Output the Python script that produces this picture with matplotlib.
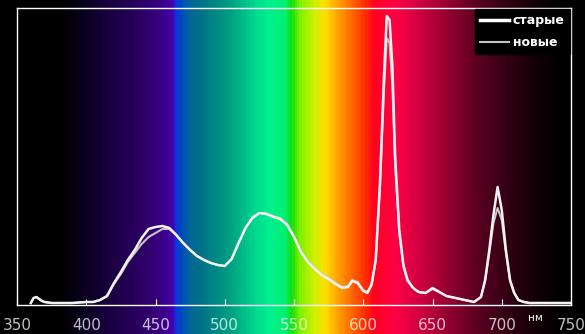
import numpy as np
import matplotlib
matplotlib.use("Agg")
import matplotlib.pyplot as plt
from matplotlib.colors import LinearSegmentedColormap
from matplotlib.lines import Line2D

# --- data ---
wavelength = [360, 362, 364, 366, 368, 370, 375, 380, 390, 400, 405, 410, 415, 420,
              425, 430, 435, 440, 445, 450, 455, 460, 465, 470, 475, 480, 485, 490,
              495, 500, 505, 510, 515, 520, 525, 530, 535, 540, 545, 550, 555, 560,
              565, 570, 575, 580, 585, 589, 592, 596, 600, 603, 606, 609, 612, 615,
              617, 619, 621, 623, 626, 629, 632, 636, 640, 645, 650, 655, 660, 670,
              680, 685, 688, 691, 694, 697, 700, 703, 706, 709, 712, 716, 720, 730,
              740, 750]
old = [2, 7, 8, 6, 4, 3, 2, 2, 2, 3, 3, 5, 9, 22,
       33, 45, 55, 67, 76, 78, 79, 77, 70, 62, 55, 49, 45, 42,
       40, 39, 46, 62, 77, 87, 92, 91, 88, 86, 80, 68, 53, 43,
       36, 30, 26, 21, 17, 18, 24, 22, 14, 12, 20, 45, 120, 230,
       289, 285, 240, 150, 75, 40, 25, 17, 13, 12, 17, 13, 9, 6,
       3, 8, 25, 55, 90, 118, 95, 55, 25, 12, 5, 3, 2, 2,
       2, 2]
new = [2, 7, 8, 6, 4, 3, 2, 2, 2, 3, 3, 5, 9, 21,
       31, 43, 52, 61, 68, 72, 76, 76, 70, 62, 55, 49, 45, 42,
       40, 39, 46, 62, 77, 88, 92, 92, 89, 87, 81, 69, 54, 44,
       37, 31, 27, 22, 18, 19, 25, 23, 15, 13, 21, 44, 115, 215,
       267, 262, 220, 140, 72, 38, 24, 17, 13, 12, 16, 13, 9, 6,
       3, 8, 24, 52, 82, 97, 85, 52, 24, 12, 5, 3, 2, 2,
       2, 2]
xticks = [350, 400, 450, 500, 550, 600, 650, 700, 750]

# --- spectrum background, anchored by pixel column of the picture ---
stops = [(0, "#000000"), (60, "#000000"), (80, "#08001a"), (100, "#140035"),
         (130, "#260058"), (150, "#330070"), (165, "#3d0090"), (172, "#4500b0"),
         (175, "#1030e0"), (180, "#0048c0"), (190, "#006898"), (200, "#007088"),
         (230, "#00a080"), (255, "#00d890"), (270, "#00f090"), (285, "#00f070"),
         (292, "#10e010"), (300, "#80f000"), (315, "#d0f000"), (325, "#ffe000"),
         (335, "#ffb000"), (350, "#ff7000"), (365, "#ff3000"), (375, "#ff0020"),
         (395, "#ff0045"), (420, "#d00040"), (450, "#900030"), (480, "#580020"),
         (510, "#300012"), (540, "#100005"), (565, "#000000"), (585, "#000000")]
spec = LinearSegmentedColormap.from_list("spec", [(p / 585, c) for p, c in stops])

fig = plt.figure(figsize=(5.85, 3.34), dpi=100)
fig.patch.set_facecolor("black")
bg = fig.add_axes([0, 0, 1, 1])
bg.imshow(np.linspace(0, 1, 585)[None, :], cmap=spec, aspect="auto",
          extent=[0, 1, 0, 1])
bg.set_axis_off()

ax = fig.add_axes([17 / 585, 29 / 334, 554 / 585, 297 / 334])
ax.patch.set_alpha(0)
ax.plot(wavelength, new, color="#c4c4c4", lw=1.5)
ax.plot(wavelength, old, color="#f2f2f2", lw=1.8)
ax.set_xlim(350, 750)
ax.set_ylim(0, 297)
ax.set_yticks([])
ax.set_xticks(xticks)
ax.set_xticklabels([str(t) for t in xticks], family=["Liberation Sans Narrow", "DejaVu Sans"],
                   fontsize=11, color="white", alpha=0.75)
ax.tick_params(axis="x", direction="in", length=4, color="white", pad=9)
for s in ax.spines.values():
    s.set_color("white")
    s.set_linewidth(1)

handles = [Line2D([], [], color="white", lw=2.5), Line2D([], [], color="#c4c4c4", lw=1.5)]
leg = ax.legend(handles, ["старые", "новые"], loc="upper right", borderaxespad=0.1,
                frameon=True, fancybox=False, facecolor="black", edgecolor="black",
                framealpha=1, handlelength=2.3, handletextpad=0.3, labelspacing=0.7,
                prop={"weight": "bold", "size": 9})
for t in leg.get_texts():
    t.set_color("white")

fig.text(535 / 585, 1 - 318 / 334, "нм", color="white", fontsize=7.5,
         ha="center", va="center")

fig.savefig("out.png", dpi=100, facecolor="black")
